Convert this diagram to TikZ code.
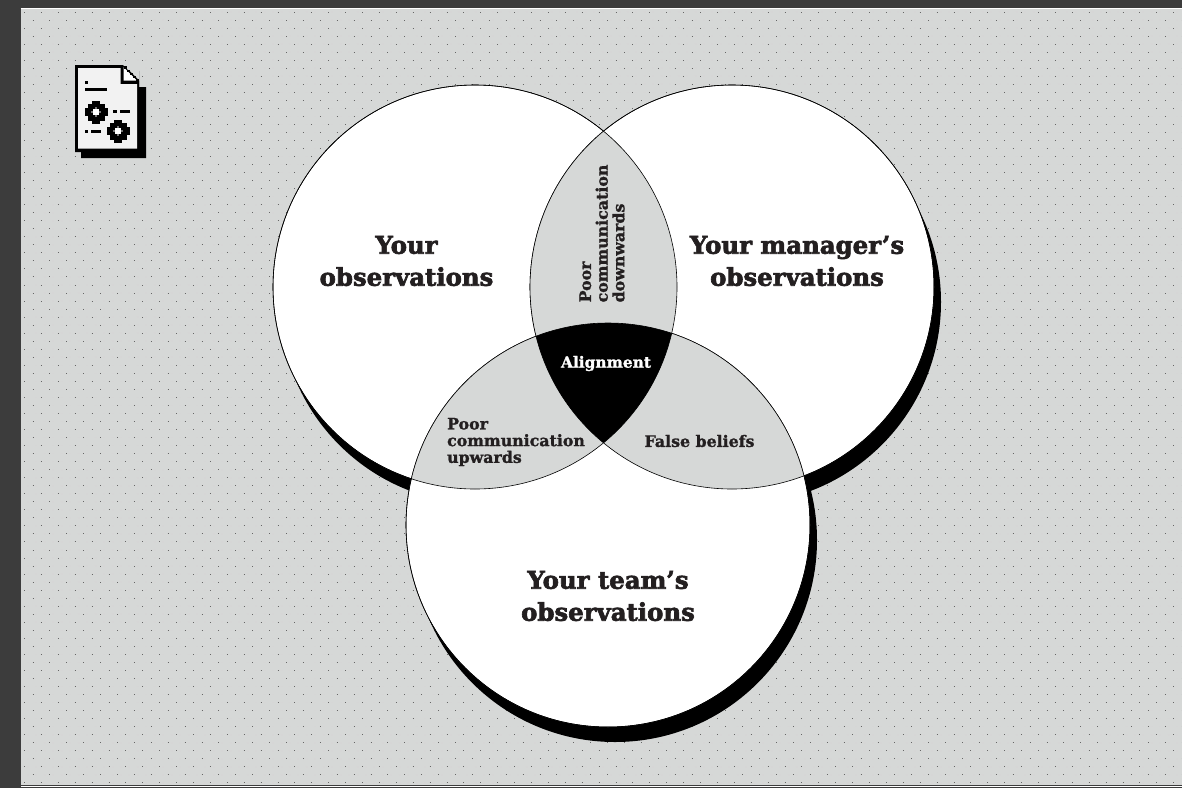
\documentclass[tikz,border=0pt]{standalone}
\usepackage{fontspec}
\setmainfont{DejaVu Serif}
\newfontfamily\heavyfont{DejaVu Serif Bold}[FakeBold=2.6]
\newfontfamily\heavysmall{DejaVu Serif Bold}[FakeBold=1.3]
\definecolor{bgrey}{HTML}{D6D8D7}
\definecolor{frameg}{HTML}{3C3C3C}
\definecolor{inkk}{HTML}{231F20}
\definecolor{paper}{HTML}{F2F2F2}
\tikzset{
  venn/.style={draw=black,line width=0.6pt,fill=white},
  big/.style={font=\heavyfont\fontsize{24.4}{32}\selectfont,text=inkk,align=center,inner sep=0pt},
  small/.style={font=\heavysmall\fontsize{15.8}{16.7}\selectfont,text=inkk,inner sep=0pt},
  gear/.pic={
    \fill[black] (-4,-11.5) rectangle (4,11.5);
    \fill[black] (-8.5,-8.5) rectangle (8.5,8.5);
    \fill[black] (-11.5,-4) rectangle (11.5,4);
    \fill[white] (-2.6,-2.6) rectangle (2.6,2.6);
    \fill[white,opacity=.45] (-5,-.9) rectangle (5,.9);
    \fill[white,opacity=.45] (-.9,-5) rectangle (.9,5);
  },
}
\begin{document}
\begin{tikzpicture}[x=1pt,y=-1pt]
\useasboundingbox (0,0) rectangle (1182,788);
\fill[frameg] (0,0) rectangle (1182,788);
\fill[bgrey] (21,9) rectangle (1182,785);
\draw[white,line width=1pt] (20.5,8) -- (1182,8);
\draw[white,line width=0.8pt] (21,786) -- (1182,786);
% dots
\foreach \r in {0,...,48}{
  \pgfmathsetmacro\yy{12+16.06*\r}
  \pgfmathsetmacro\yb{\yy+8.03}
  \draw[black!16,line width=1.6pt,dash pattern=on 2pt off 6.45pt] (27,\yy) -- (1182,\yy);
  \draw[black!60,line width=1pt,dash pattern=on 1pt off 15.9pt] (24,\yy) -- (1182,\yy);
  \draw[black!16,line width=1.6pt,dash pattern=on 2pt off 6.45pt] (27,\yb) -- (1182,\yb);
  \draw[black!60,line width=1pt,dash pattern=on 1pt off 15.9pt] (32.5,\yb) -- (1182,\yb);
}
% shadows
\foreach \cx/\cy in {475/287,732/287,608/525}{
  \fill[black] (\cx+7,\cy+15) circle[radius=202];
}
\node[venn,circle,minimum size=404pt,inner sep=0pt] (L) at (475,287) {};
\node[venn,circle,minimum size=404pt,inner sep=0pt] (R) at (732,287) {};
\node[venn,circle,minimum size=404pt,inner sep=0pt] (B) at (608,525) {};
% lenses
\begin{scope}
  \clip (475,287) circle[radius=202];
  \fill[bgrey] (732,287) circle[radius=202];
\end{scope}
\begin{scope}
  \clip (475,287) circle[radius=202];
  \fill[bgrey] (608,525) circle[radius=202];
\end{scope}
\begin{scope}
  \clip (732,287) circle[radius=202];
  \fill[bgrey] (608,525) circle[radius=202];
\end{scope}
\begin{scope}
  \clip (475,287) circle[radius=202];
  \clip (732,287) circle[radius=202];
  \fill[black] (608,525) circle[radius=202];
\end{scope}
\draw[black,line width=0.6pt] (475,287) circle[radius=202] (732,287) circle[radius=202] (608,525) circle[radius=202];
% labels
\node[big] (tL) at (406.5,261) {Your\\observations};
\node[big] (tR) at (797,261) {Your manager’s\\observations};
\node[big] (tB) at (608,596) {Your team’s\\observations};
\node[small,text=white,font=\heavysmall\fontsize{15.4}{16}\selectfont] (tA) at (606,363.5) {Alignment};
\node[small,align=left] (tU) at (516,442) {Poor\\communication\\upwards};
\node[small] (tF) at (699.5,441) {False beliefs};
\node[small,align=left,rotate=90] (tD) at (602,233.5) {Poor\\communication\\downwards};
% icon
\fill[black] (81,71) -- (139,71) -- (139,87) -- (146,87) -- (146,158) -- (81,158) -- cycle;
\fill[black] (75,65) -- (123,65) -- (123,65) -- (139,81) -- (139,152) -- (75,152) -- cycle;
\fill[paper] (78,68) -- (120.5,68) -- (120.5,84) -- (137,84) -- (137,148.5) -- (78,148.5) -- cycle;
\fill[bgrey] (124,65) -- (139,65) -- (139,80) -- cycle;
\fill[white] (123.5,67) -- (137,80.5) -- (123.5,80.5) -- cycle;
\fill[black] (124,66) rectangle (126.5,68.5);
\fill[black] (127,69.5) rectangle (129.5,72);
\fill[black] (130,72.5) rectangle (132.5,75);
\fill[black] (133,75.5) rectangle (135.5,78);
\fill[black] (136,78.5) rectangle (138.5,81);
\fill[black] (85,81) rectangle (88,84);
\fill[black] (85,88) rectangle (107,91);
\fill[black] (113,110) rectangle (117,113);
\fill[black] (120,110) rectangle (130,113);
\fill[black] (85,130) rectangle (88,133);
\fill[black] (91,130) rectangle (101,133);
\pic at (96,112) {gear};
\pic at (118,131) {gear};
\end{tikzpicture}
\end{document}
